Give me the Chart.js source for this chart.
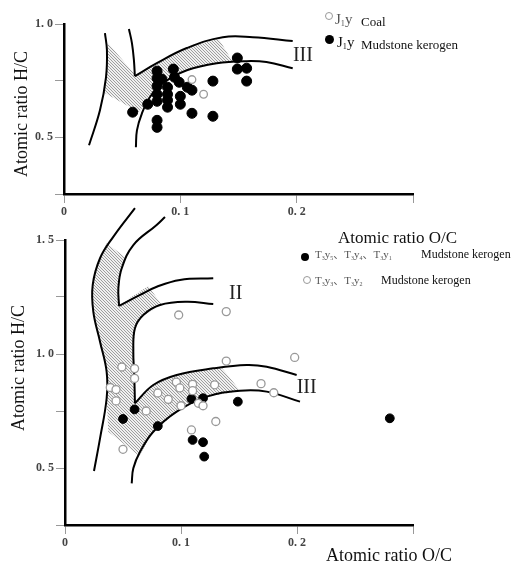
<!DOCTYPE html>
<html>
<head>
<meta charset="utf-8">
<script src="https://cdn.jsdelivr.net/npm/chart.js@4.4.1/dist/chart.umd.min.js"></script>
<style>
  html, body { margin: 0; padding: 0; background: #fff; }
  #wrap { position: relative; width: 515px; height: 565px; overflow: hidden; }
  canvas { position: absolute; left: 0; }
  .t { position: absolute; white-space: nowrap; font-family: 'Liberation Serif', 'Noto Sans CJK SC', serif; color: #111; line-height: 1; }
  .rot { transform: translate(-50%, -50%) rotate(-90deg); }
  .mk { position: absolute; border-radius: 50%; box-sizing: border-box; }
  .mk.full { background: #000; }
  .mk.open { background: #fff; border: 1.2px solid #999; }
  .t sub { font-size: 55%; vertical-align: -0.25em; }
  .g { color: #555; }
</style>
</head>
<body>
<div id="wrap">
  <canvas id="topChart" width="515" height="245" style="top:0"></canvas>
  <canvas id="botChart" width="515" height="365" style="top:200px"></canvas>

  <!-- titles -->
  <div class="t rot" style="left:21px;top:114px;font-size:18px">Atomic ratio H/C</div>
  <div class="t" style="left:338px;top:229px;font-size:17px">Atomic ratio O/C</div>
  <div class="t rot" style="left:18px;top:368px;font-size:18px">Atomic ratio H/C</div>
  <div class="t" style="left:326px;top:546px;font-size:18px">Atomic ratio O/C</div>

  <!-- top legend -->
  <div class="mk open" style="left:325px;top:12px;width:8px;height:8px"></div>
  <div class="t g" style="left:335px;top:12px;font-size:15px">J<sub>1</sub>y</div>
  <div class="t" style="left:361px;top:15px;font-size:13px">Coal</div>
  <div class="mk full" style="left:325px;top:35px;width:9px;height:9px"></div>
  <div class="t" style="left:337px;top:35px;font-size:15px">J<sub>1</sub>y</div>
  <div class="t" style="left:361px;top:38px;font-size:13px">Mudstone kerogen</div>

  <!-- bottom legend -->
  <div class="mk full" style="left:301px;top:253px;width:8px;height:8px"></div>
  <div class="t g" style="left:315px;top:249px;font-size:11px">T<sub>3</sub>y<sub>5</sub>、T<sub>3</sub>y<sub>4</sub>、T<sub>3</sub>y<sub>1</sub></div>
  <div class="t" style="left:421px;top:248px;font-size:12px">Mudstone kerogen</div>
  <div class="mk open" style="left:303px;top:276px;width:8px;height:8px"></div>
  <div class="t g" style="left:315px;top:275px;font-size:11px">T<sub>3</sub>y<sub>3</sub>、T<sub>3</sub>y<sub>2</sub></div>
  <div class="t" style="left:381px;top:274px;font-size:12px">Mudstone kerogen</div>
</div>

<script>
'use strict';

// ---------- upper plot: J1y ----------
const topMudstone = [
  [0.059, 0.611], [0.072, 0.646], [0.08, 0.792], [0.08, 0.761], [0.084, 0.757],
  [0.08, 0.726], [0.08, 0.69], [0.08, 0.659], [0.08, 0.575], [0.08, 0.544],
  [0.094, 0.801], [0.095, 0.765], [0.099, 0.743], [0.089, 0.721], [0.089, 0.69],
  [0.089, 0.664], [0.089, 0.633], [0.1, 0.681], [0.1, 0.646], [0.106, 0.721],
  [0.11, 0.708], [0.11, 0.606], [0.128, 0.748], [0.128, 0.593], [0.149, 0.85],
  [0.149, 0.801], [0.157, 0.805], [0.157, 0.748],
];
const topCoal = [[0.11, 0.755], [0.12, 0.69]];

const topCurveLeft = [[0.0215, 0.465], [0.0309, 0.619], [0.0361, 0.765], [0.0369, 0.885], [0.0352, 0.96]];
const topCurveVDown = [[0.0558, 0.978], [0.0584, 0.916], [0.0601, 0.841], [0.0609, 0.77]];
const topCurveVArm = [[0.0609, 0.77], [0.0798, 0.827], [0.1056, 0.894], [0.1365, 0.942], [0.1622, 0.942], [0.1966, 0.925]];
const topCurveLow = [
  [0.0618, 0.456], [0.0627, 0.531], [0.067, 0.606], [0.0738, 0.677], [0.085, 0.739],
  [0.1056, 0.796], [0.1313, 0.827], [0.157, 0.836], [0.174, 0.832], [0.1966, 0.805],
];
const topHatch = [
  [0.0378, 0.916], [0.0601, 0.783], [0.0609, 0.77], [0.0798, 0.827], [0.1056, 0.894],
  [0.133, 0.935], [0.1451, 0.832], [0.1313, 0.827], [0.1056, 0.796], [0.085, 0.739],
  [0.0738, 0.677], [0.0644, 0.611], [0.0339, 0.699], [0.0361, 0.765], [0.0369, 0.885],
];
const topRegions = [['III', 0.2054, 0.858]];

const topXTicks = [0, 0.1, 0.2, 0.3];
const topXLabels = ['0', '0. 1', '0. 2', ''];
const topYTicks = [0.25, 0.5, 0.75, 1.0];
const topYLabels = ['', '0. 5', '', '1. 0'];

// ---------- lower plot: T3y ----------
const botFilled = [
  [0.05, 0.715], [0.06, 0.757], [0.08, 0.684], [0.109, 0.803], [0.119, 0.806],
  [0.149, 0.791], [0.11, 0.623], [0.119, 0.613], [0.12, 0.55], [0.28, 0.718],
];
const botHollow = [
  [0.098, 1.171], [0.139, 1.186], [0.139, 0.969], [0.198, 0.985], [0.049, 0.943],
  [0.06, 0.936], [0.06, 0.893], [0.039, 0.853], [0.044, 0.844], [0.044, 0.794],
  [0.05, 0.582], [0.07, 0.75], [0.08, 0.829], [0.089, 0.801], [0.096, 0.877],
  [0.099, 0.851], [0.11, 0.867], [0.11, 0.839], [0.1, 0.773], [0.115, 0.784],
  [0.119, 0.773], [0.129, 0.865], [0.13, 0.704], [0.109, 0.667], [0.169, 0.87],
  [0.18, 0.83],
];

const botCurveLeft = [
  [0.025, 0.487], [0.0302, 0.63], [0.0359, 0.806], [0.0359, 0.922], [0.0302, 1.054],
  [0.0244, 1.186], [0.0239, 1.303], [0.0302, 1.42], [0.0416, 1.514], [0.0603, 1.64],
];
const botCurveVDown = [[0.0862, 1.601], [0.079, 1.566], [0.0589, 1.478], [0.0489, 1.376], [0.046, 1.288], [0.0466, 1.211]];
const botCurveVArm = [[0.0466, 1.211], [0.0647, 1.259], [0.0791, 1.295], [0.0991, 1.325], [0.1278, 1.332]];
const botCurveMidDown = [
  [0.1278, 1.219], [0.1049, 1.229], [0.0819, 1.215], [0.0675, 1.171], [0.0603, 1.113],
  [0.0589, 1.01], [0.0597, 0.908], [0.0603, 0.784],
];
const botCurveMidArm = [[0.0603, 0.784], [0.0761, 0.864], [0.0963, 0.908], [0.1278, 0.937], [0.1566, 0.952], [0.1739, 0.944], [0.1997, 0.908]];
const botCurveLow = [
  [0.0575, 0.433], [0.0589, 0.499], [0.0647, 0.571], [0.0761, 0.659], [0.0963, 0.747],
  [0.1222, 0.813], [0.1509, 0.839], [0.1739, 0.835], [0.2026, 0.791],
];
const botHatch = [
  [0.0359, 1.486], [0.0517, 1.425], [0.0489, 1.376], [0.0459, 1.288], [0.0466, 1.211],
  [0.0575, 1.251], [0.0718, 1.298], [0.0836, 1.215], [0.0675, 1.171], [0.0603, 1.113],
  [0.0589, 1.01], [0.0597, 0.908], [0.0603, 0.784], [0.0761, 0.864], [0.0963, 0.908],
  [0.1278, 0.937], [0.1351, 0.941], [0.1509, 0.839], [0.1222, 0.813], [0.0963, 0.747],
  [0.0761, 0.659], [0.0641, 0.553], [0.0373, 0.659], [0.0359, 0.806], [0.0359, 0.922],
  [0.0302, 1.054], [0.0244, 1.186], [0.0239, 1.303], [0.0302, 1.42],
];
const botRegions = [['II', 0.1471, 1.266], ['III', 0.2083, 0.85]];

const botXTicks = [0, 0.1, 0.2, 0.3];
const botXLabels = ['0', '0. 1', '0. 2', ''];
const botYTicks = [0.25, 0.5, 0.75, 1.0, 1.25, 1.5];
const botYLabels = ['', '0. 5', '', '1. 0', '', '1. 5'];

// ---------- helpers ----------
const xy = (arr) => arr.map(([x, y]) => ({ x, y }));

function hatchPattern(ctx) {
  const c = document.createElement('canvas');
  c.width = 3; c.height = 3;
  const g = c.getContext('2d');
  g.fillStyle = '#f0f0f0';
  g.fillRect(0, 0, 3, 3);
  g.strokeStyle = '#949494';
  g.lineWidth = 0.9;
  g.beginPath();
  g.moveTo(-1, -1); g.lineTo(4, 4);
  g.moveTo(-1, 2); g.lineTo(1, 4);
  g.moveTo(2, -1); g.lineTo(4, 1);
  g.stroke();
  return ctx.createPattern(c, 'repeat');
}

function curve(arr) {
  return {
    type: 'line', data: xy(arr), showLine: true, fill: false,
    borderColor: '#000', borderWidth: 2, tension: 0.4, capBezierPoints: false,
    pointRadius: 0, clip: false, order: 2,
  };
}

function dots(arr, radius, filled) {
  return {
    data: xy(arr), showLine: false, order: 0,
    pointRadius: radius,
    pointBackgroundColor: filled ? '#000' : '#fff',
    pointBorderColor: filled ? '#000' : '#999',
    pointBorderWidth: filled ? 1 : 1.3,
  };
}

function area(arr, pattern) {
  return {
    type: 'line', data: xy(arr), showLine: true, fill: 'shape',
    backgroundColor: pattern, borderWidth: 0, borderColor: 'rgba(0,0,0,0)',
    tension: 0, pointRadius: 0, order: 3,
  };
}

const regionLabels = {
  id: 'regionLabels',
  afterDatasetsDraw(chart, args, opts) {
    const { ctx, scales: { x, y } } = chart;
    ctx.save();
    ctx.font = '20px "Liberation Serif"';
    ctx.fillStyle = '#222';
    ctx.textAlign = 'center';
    ctx.textBaseline = 'middle';
    for (const [text, vx, vy] of opts.items) {
      ctx.fillText(text, x.getPixelForValue(vx), y.getPixelForValue(vy));
    }
    ctx.restore();
  },
};

const tickFont = { family: 'Liberation Serif', size: 12, weight: 'bold' };

function axis(min, max, ticks, labels, fit) {
  return {
    type: 'linear', min, max,
    afterBuildTicks: (s) => { s.ticks = ticks.map((v) => ({ value: v })); },
    afterFit: fit,
    ticks: {
      autoSkip: false, maxRotation: 0, color: '#444', font: tickFont, padding: 2,
      callback: (v, i) => labels[i],
    },
    grid: { drawOnChartArea: false, drawTicks: true, tickLength: 9, color: '#999', lineWidth: 1 },
    border: { display: true, color: '#000', width: 2.5 },
  };
}

function makeChart(id, cfg) {
  const canvas = document.getElementById(id);
  const pattern = hatchPattern(canvas.getContext('2d'));
  return new Chart(canvas, {
    type: 'scatter',
    data: { datasets: cfg.datasets(pattern) },
    options: {
      responsive: false,
      animation: false,
      events: [],
      layout: { padding: cfg.padding },
      scales: { x: cfg.x, y: cfg.y },
      plugins: {
        legend: { display: false },
        tooltip: { enabled: false },
        regionLabels: { items: cfg.regions },
      },
    },
    plugins: [regionLabels],
  });
}

makeChart('topChart', {
  padding: { top: 24, right: 102, left: 0, bottom: 0 },
  x: axis(0, 0.3, topXTicks, topXLabels, (s) => { s.height = 51; }),
  y: axis(0.25, 1.0, topYTicks, topYLabels, (s) => { s.width = 64; }),
  regions: topRegions,
  datasets: (p) => [
    area(topHatch, p),
    curve(topCurveLeft), curve(topCurveVDown), curve(topCurveVArm), curve(topCurveLow),
    dots(topCoal, 3.8, false),
    dots(topMudstone, 5, true),
  ],
});

makeChart('botChart', {
  padding: { top: 40, right: 102, left: 0, bottom: 0 },
  x: axis(0, 0.3, botXTicks, botXLabels, (s) => { s.height = 40; }),
  y: axis(0.25, 1.5, botYTicks, botYLabels, (s) => { s.width = 65; }),
  regions: botRegions,
  datasets: (p) => [
    area(botHatch, p),
    curve(botCurveLeft), curve(botCurveVDown), curve(botCurveVArm),
    curve(botCurveMidDown), curve(botCurveMidArm), curve(botCurveLow),
    dots(botHollow, 4, false),
    dots(botFilled, 4.4, true),
  ],
});
</script>
</body>
</html>
